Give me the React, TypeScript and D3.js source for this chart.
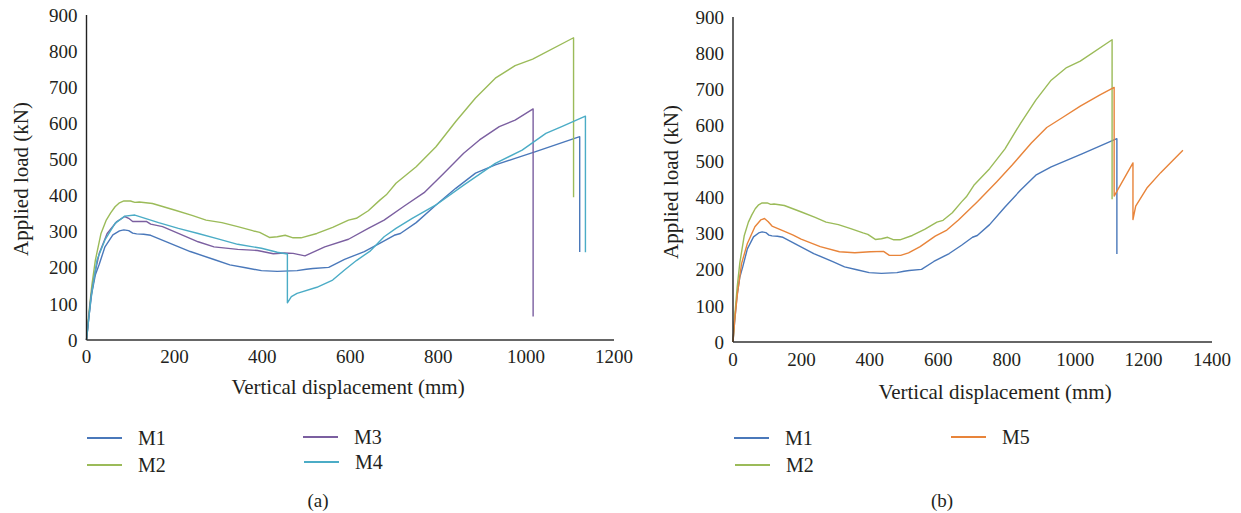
import React from "react";
import * as d3 from "d3";

type Pt = [number, number];

const M1: Pt[] = [[0,0],[5,60],[12,130],[20,180],[29,210],[42,258],[60,291],[75,302],[85,305],[96,303],[105,296],[114,294],[130,293],[146,290],[182,272],[236,245],[290,223],[326,208],[362,200],[398,192],[434,190],[479,192],[500,196],[515,198],[551,201],[587,223],[632,245],[668,268],[700,290],[714,295],[750,325],[795,374],[840,420],[885,462],[930,485],[975,503],[1020,521],[1122,563],[1122,244]];
const M2: Pt[] = [[0,0],[5,70],[12,150],[20,220],[33,295],[45,332],[55,352],[65,369],[75,380],[85,385],[100,385],[110,381],[120,382],[150,378],[200,360],[240,345],[272,332],[308,325],[344,314],[380,302],[394,298],[416,284],[434,286],[452,290],[470,283],[488,283],[524,295],[560,312],[596,332],[614,337],[641,358],[668,388],[682,402],[704,434],[750,480],[795,535],[840,605],[885,670],[930,725],[975,760],[1015,778],[1108,837],[1108,395]];
const M3: Pt[] = [[0,0],[10,120],[20,190],[29,240],[47,295],[69,328],[87,342],[96,337],[105,328],[137,328],[146,321],[173,314],[209,295],[254,272],[290,258],[344,251],[389,248],[425,239],[450,241],[470,240],[497,233],[542,258],[596,279],[641,309],[677,332],[723,371],[768,408],[813,462],[858,517],[894,554],[939,591],[975,609],[1016,640],[1016,65]];
const M4: Pt[] = [[0,0],[10,115],[24,222],[42,277],[65,323],[87,343],[110,346],[128,339],[164,325],[209,309],[254,295],[299,280],[344,265],[398,254],[434,243],[457,238],[457,103],[466,120],[479,129],[524,146],[560,166],[587,194],[614,220],[646,247],[677,286],[704,309],[741,337],[795,374],[858,429],[930,489],[991,526],[1045,572],[1081,591],[1135,620],[1135,243]];
const M5: Pt[] = [[0,0],[5,60],[13,134],[25,217],[42,273],[64,319],[81,338],[92,342],[103,333],[114,321],[154,305],[176,296],[199,285],[255,264],[311,250],[356,247],[401,250],[440,251],[457,240],[490,240],[513,247],[547,264],[591,293],[625,310],[659,338],[715,389],[771,444],[816,490],[872,551],[917,594],[962,621],[1015,653],[1074,685],[1114,705],[1114,404],[1169,496],[1169,339],[1177,376],[1211,428],[1250,469],[1315,531]];

const yTicks = [0, 100, 200, 300, 400, 500, 600, 700, 800, 900];
const xTicksA = [0, 200, 400, 600, 800, 1000, 1200];
const xTicksB = [0, 200, 400, 600, 800, 1000, 1200, 1400];

const COLORS: Record<string, string> = {
  M1: "#4a78ba",
  M2: "#9bbb59",
  M3: "#7b5fa0",
  M4: "#4bacc6",
  M5: "#e8843a",
};

const FONT = '"Liberation Serif", "Times New Roman", Times, "DejaVu Serif", serif';

interface PanelProps {
  x0: number; x1: number; y0: number; y1: number;
  xMax: number; xTicks: number[];
  series: { name: string; data: Pt[] }[];
  yTitleX: number; yTitleY: number;
  xTitleX: number; xTitleY: number;
  tickY: number;
  legend: { name: string; x: number; y: number }[];
  caption: string; capX: number; capY: number;
}

function Panel(p: PanelProps) {
  const x = d3.scaleLinear().domain([0, p.xMax]).range([p.x0, p.x1]);
  const y = d3.scaleLinear().domain([0, 900]).range([p.y0, p.y1]);
  const line = d3.line<Pt>().x((d) => x(d[0])).y((d) => y(d[1]));
  const ts = { fontFamily: FONT, fill: "#231f20" } as React.CSSProperties;
  return (
    <g>
      {p.series.map((s) => (
        <path key={s.name} d={line(s.data) || ""} fill="none" stroke={COLORS[s.name]} strokeWidth={1.4} strokeLinejoin="round" />
      ))}
      <line x1={p.x0} x2={p.x0} y1={y(0)} y2={y(900)} stroke="#222" strokeWidth={1.4} />
      <line x1={p.x0} x2={p.x1} y1={y(0)} y2={y(0)} stroke="#333" strokeWidth={1.5} />
      {yTicks.map((t) => (
        <text key={"y" + t} style={ts} x={p.x0 - 9} y={y(t)} dy="0.35em" textAnchor="end" fontSize={19}>{t}</text>
      ))}
      {p.xTicks.map((t) => (
        <text key={"x" + t} style={ts} x={x(t)} y={p.tickY} textAnchor="middle" fontSize={19}>{t}</text>
      ))}
      <text style={ts} transform={`translate(${p.yTitleX},${p.yTitleY}) rotate(-90)`} textAnchor="middle" dy="0.35em" fontSize={21}>Applied load (kN)</text>
      <text style={ts} x={p.xTitleX} y={p.xTitleY} textAnchor="middle" dy="0.35em" fontSize={21}>Vertical displacement (mm)</text>
      {p.legend.map((l) => (
        <g key={l.name}>
          <line x1={l.x} x2={l.x + 35} y1={l.y} y2={l.y} stroke={COLORS[l.name]} strokeWidth={2} />
          <text style={ts} x={l.x + 51} y={l.y} dy="0.35em" fontSize={20}>{l.name}</text>
        </g>
      ))}
      <text style={ts} x={p.capX} y={p.capY} dy="0.35em" textAnchor="middle" fontSize={19}>{p.caption}</text>
    </g>
  );
}

export default function App() {
  return (
    <svg width={1241} height={513} style={{ position: "absolute", left: 0, top: 0, background: "#fff" }}>
      <Panel
        x0={86.5} x1={614} y0={340} y1={15} xMax={1200} xTicks={xTicksA}
        series={[{ name: "M1", data: M1 }, { name: "M2", data: M2 }, { name: "M3", data: M3 }, { name: "M4", data: M4 }]}
        yTitleX={21} yTitleY={179} xTitleX={348} xTitleY={387} tickY={363}
        legend={[{ name: "M1", x: 87, y: 438 }, { name: "M2", x: 87, y: 465 }, { name: "M3", x: 303, y: 437 }, { name: "M4", x: 304, y: 462 }]}
        caption="(a)" capX={318} capY={500}
      />
      <Panel
        x0={733} x1={1212} y0={342} y1={17} xMax={1400} xTicks={xTicksB}
        series={[{ name: "M1", data: M1 }, { name: "M2", data: M2 }, { name: "M5", data: M5 }]}
        yTitleX={671} yTitleY={182} xTitleX={995} xTitleY={392} tickY={366}
        legend={[{ name: "M1", x: 734, y: 438 }, { name: "M2", x: 735, y: 465 }, { name: "M5", x: 951, y: 437 }]}
        caption="(b)" capX={942} capY={500}
      />
    </svg>
  );
}
